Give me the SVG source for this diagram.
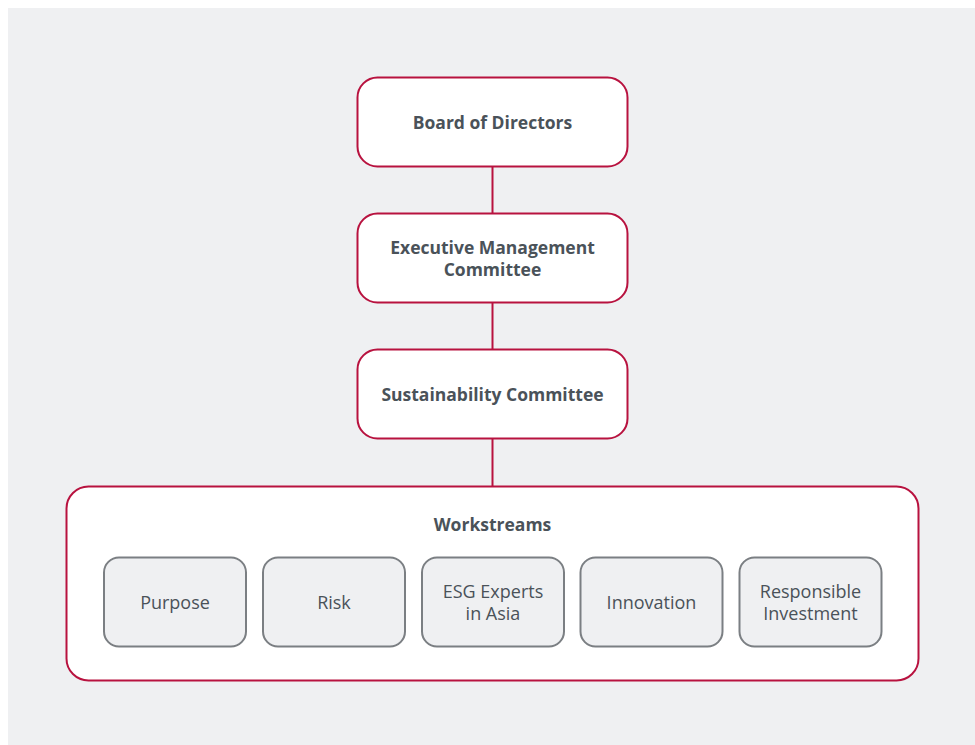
<svg xmlns="http://www.w3.org/2000/svg" width="975" height="745" viewBox="0 0 975 745">
<style>
.main{fill:#ffffff;stroke:#b8123f;stroke-width:2}
.sub{fill:#eff0f2;stroke:#7b7f83;stroke-width:2}
.b{font-family:"Open Sans","Noto Sans","Liberation Sans",sans-serif;font-weight:bold;font-size:17.5px;fill:#4a5259;text-anchor:middle}
.r{font-family:"Open Sans","Noto Sans","Liberation Sans",sans-serif;font-size:18px;fill:#4a5259;text-anchor:middle}
.c{stroke:#b8123f;stroke-width:2;fill:none}
</style>
<rect x="0" y="0" width="975" height="745" fill="#ffffff"/>
<rect x="8" y="8" width="967" height="737" fill="#eff0f2"/>
<g id="connectors">
<line class="c" x1="492.5" y1="167" x2="492.5" y2="213"/>
<line class="c" x1="492.5" y1="303" x2="492.5" y2="349"/>
<line class="c" x1="492.5" y1="439" x2="492.5" y2="486"/>
</g>
<g id="board">
<rect class="main" x="357.5" y="77.5" width="270" height="89" rx="20"/>
<text class="b" x="492.5" y="128.5">Board of Directors</text>
</g>
<g id="exec">
<rect class="main" x="357.5" y="213.5" width="270" height="89" rx="20"/>
<text class="b" x="492.5" y="253.5">Executive Management</text>
<text class="b" x="492.5" y="275.5">Committee</text>
</g>
<g id="sustain">
<rect class="main" x="357.5" y="349.5" width="270" height="89" rx="20"/>
<text class="b" x="492.5" y="400.5">Sustainability Committee</text>
</g>
<g id="workstreams">
<rect class="main" x="66.5" y="486.5" width="852" height="194" rx="22"/>
<text class="b" x="492.5" y="531">Workstreams</text>
</g>
<g id="purpose">
<rect class="sub" x="104" y="557.5" width="142" height="89" rx="15"/>
<text class="r" x="175" y="608.5">Purpose</text>
</g>
<g id="risk">
<rect class="sub" x="263" y="557.5" width="142" height="89" rx="15"/>
<text class="r" x="334" y="608.5">Risk</text>
</g>
<g id="esg">
<rect class="sub" x="422" y="557.5" width="142" height="89" rx="15"/>
<text class="r" x="493" y="597.5">ESG Experts</text>
<text class="r" x="493" y="619.5">in Asia</text>
</g>
<g id="innovation">
<rect class="sub" x="580.5" y="557.5" width="142" height="89" rx="15"/>
<text class="r" x="651.5" y="608.5">Innovation</text>
</g>
<g id="responsible">
<rect class="sub" x="739.5" y="557.5" width="142" height="89" rx="15"/>
<text class="r" x="810.5" y="597.5">Responsible</text>
<text class="r" x="810.5" y="619.5">Investment</text>
</g>
</svg>
